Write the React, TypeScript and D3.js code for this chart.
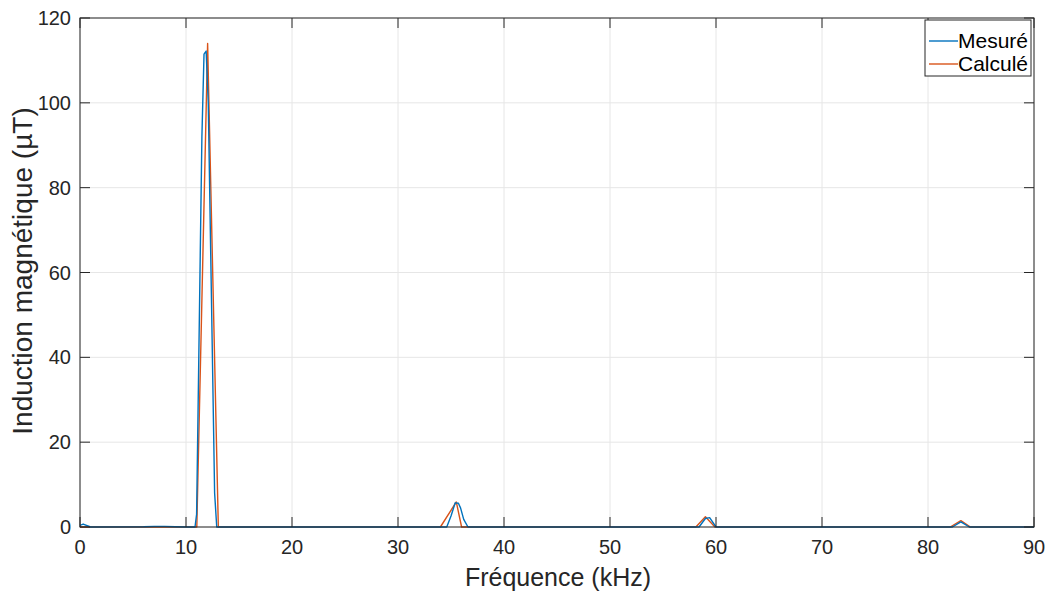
import React from "react";
import * as d3 from "d3";

const measuredFreq = [0, 0.3, 1.0, 6.0, 7.0, 8.0, 9.0, 10.0, 10.85, 11.0, 11.5, 11.7, 11.9, 12.1, 12.7, 12.9, 34.6, 35.0, 35.4, 35.7, 35.9, 36.2, 36.6, 58.4, 59.0, 59.4, 60.0, 82.3, 83.1, 83.9, 90];
const measuredVal = [0.4, 0.7, 0, 0.05, 0.15, 0.15, 0.05, 0, 0, 3, 92, 111.5, 112.2, 100, 8, 0, 0, 2.6, 5.7, 5.6, 4.5, 1.8, 0, 0, 2.0, 2.2, 0, 0, 1.2, 0, 0];

const calcFreq = [0, 11.02, 12.04, 13.05, 34.0, 35.5, 36.0, 58.1, 59.0, 59.9, 82.1, 83.1, 84.0, 90];
const calcVal = [0, 0, 114, 0, 0, 5.9, 0, 0, 2.4, 0, 0, 1.5, 0, 0];

const xTicks = [0, 10, 20, 30, 40, 50, 60, 70, 80, 90];
const yTicks = [0, 20, 40, 60, 80, 100, 120];
const legendLabels = ["Mesuré", "Calculé"];
const xLabel = "Fréquence (kHz)";
const yLabel = "Induction magnétique (µT)";

export default function App() {
  const W = 1055, H = 592;
  const left = 80, right = 1034, top = 18, bottom = 527;
  const x = d3.scaleLinear().domain([0, 90]).range([left, right]);
  const y = d3.scaleLinear().domain([0, 120]).range([bottom, top]);
  const line = d3.line<[number, number]>().x(d => x(d[0])).y(d => y(d[1]));
  const mData = measuredFreq.map((f, i) => [f, measuredVal[i]] as [number, number]);
  const cData = calcFreq.map((f, i) => [f, calcVal[i]] as [number, number]);
  const axisColor = "#262626";
  const font = "'Liberation Sans', Arial, Helvetica, sans-serif";
  const colors = ["#0072BD", "#D95319"];
  return (
    <svg width={W} height={H} style={{ position: "absolute", left: 0, top: 0, background: "#fff" }} fontFamily={font}>
      <rect x={0} y={0} width={W} height={H} fill="#fff" />
      {xTicks.map(t => (
        <line key={"gx" + t} x1={x(t)} x2={x(t)} y1={top} y2={bottom} stroke="#e6e6e6" strokeWidth={1} />
      ))}
      {yTicks.map(t => (
        <line key={"gy" + t} x1={left} x2={right} y1={y(t)} y2={y(t)} stroke="#e6e6e6" strokeWidth={1} />
      ))}
      <path d={line(cData) || ""} fill="none" stroke={colors[1]} strokeWidth={1.4} strokeLinejoin="round" />
      <path d={line(mData) || ""} fill="none" stroke={colors[0]} strokeWidth={1.4} strokeLinejoin="round" />
      <rect x={left} y={top} width={right - left} height={bottom - top} fill="none" stroke={axisColor} strokeWidth={1} />
      {xTicks.map(t => (
        <g key={"tx" + t}>
          <line x1={x(t)} x2={x(t)} y1={bottom} y2={bottom - 10} stroke={axisColor} />
          <line x1={x(t)} x2={x(t)} y1={top} y2={top + 10} stroke={axisColor} />
          <text x={x(t)} y={bottom + 27} textAnchor="middle" fontSize={20} fill={axisColor}>{t}</text>
        </g>
      ))}
      {yTicks.map(t => (
        <g key={"ty" + t}>
          <line x1={left} x2={left + 10} y1={y(t)} y2={y(t)} stroke={axisColor} />
          <line x1={right} x2={right - 10} y1={y(t)} y2={y(t)} stroke={axisColor} />
          <text x={left - 9} y={y(t) + 7} textAnchor="end" fontSize={20} fill={axisColor}>{t}</text>
        </g>
      ))}
      <text x={558} y={586} textAnchor="middle" fontSize={25} fill={axisColor}>{xLabel}</text>
      <text transform={`translate(32, 271) rotate(-90)`} textAnchor="middle" fontSize={28} fill={axisColor}>{yLabel}</text>
      <g>
        <rect x={925} y={20} width={106} height={56} fill="#fff" stroke={axisColor} strokeWidth={1} />
        {legendLabels.map((l, i) => (
          <g key={l}>
            <line x1={929} x2={958} y1={41 + i * 23} y2={41 + i * 23} stroke={colors[i]} strokeWidth={1.4} />
            <text x={958} y={48 + i * 23} fontSize={21} fill="#000">{l}</text>
          </g>
        ))}
      </g>
    </svg>
  );
}
